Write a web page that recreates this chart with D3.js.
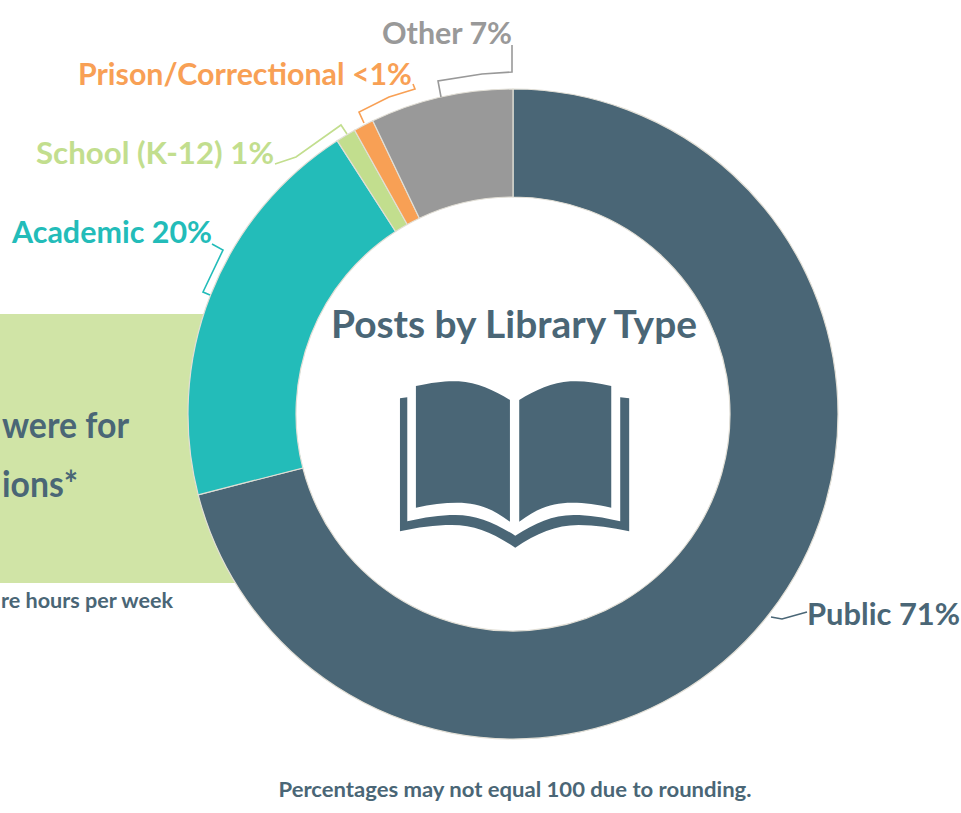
<!DOCTYPE html>
<html><head><meta charset="utf-8">
<script src="https://cdn.jsdelivr.net/npm/d3@7/dist/d3.min.js"></script>
<style>html,body{margin:0;background:#fff}svg{display:block}text{font-family:Lato,"Noto Sans",sans-serif;font-weight:700}</style>
</head><body><svg id="c" width="961" height="813"></svg>
<script>
const categories=["Public","Academic","School (K-12)","Prison/Correctional","Other"];
const shares=[71,19.9,1,1,7.1];
const labels=["Public 71%","Academic 20%","School (K-12) 1%","Prison/Correctional <1%","Other 7%"];
const colors=["#4a6676","#23bcb9","#c2de8e","#f8a055","#999999"];
const labelLayout=[
 {x:807,y:625,a:"start",s:30,w:153,lead:[[771,617],[782,619],[807,612]]},
 {x:212,y:243,a:"end",s:30,w:200,lead:[[212,244],[223,250],[203,292],[210,295]]},
 {x:274,y:164,a:"end",s:30,w:238,lead:[[347,134],[341,125],[296,157],[275,164]]},
 {x:412,y:85,a:"end",s:30,w:334,lead:[[364,123],[359,112],[389,97],[415,89],[413,84]]},
 {x:512,y:44,a:"end",s:30,w:130,lead:[[441,97],[438,81],[482,74],[512,72],[512,45]]}
];
const svg=d3.select("#c");
const cx=513,cy=414,R=325,r=217;
const ink="#4a6676";
svg.append("rect").attr("x",0).attr("y",314).attr("width",240).attr("height",269).attr("fill","#d0e4a6");
const fit=(t,w)=>t.attr("textLength",w).attr("lengthAdjust","spacingAndGlyphs");
fit(svg.append("text").attr("x",129).attr("y",438).attr("text-anchor","end").attr("font-size",36).attr("fill",ink).text("were for"),127);
fit(svg.append("text").attr("x",78).attr("y",497).attr("text-anchor","end").attr("font-size",36).attr("fill",ink).text("ions*"),76);
fit(svg.append("text").attr("x",173).attr("y",608).attr("text-anchor","end").attr("font-size",21).attr("fill",ink).text("re hours per week"),172);
const pie=d3.pie().sort(null).value(d=>d);
const arc=d3.arc().innerRadius(r).outerRadius(R);
const g=svg.append("g").attr("transform",`translate(${cx},${cy})`);
g.selectAll("path").data(pie(shares)).join("path").attr("d",arc).attr("fill",(d,i)=>colors[i]).attr("stroke","#e2dfd6").attr("stroke-width",1.2);
const line=d3.line();
labelLayout.forEach((l,i)=>{
 svg.append("path").attr("d",line(l.lead)).attr("fill","none").attr("stroke",colors[i]).attr("stroke-width",1.6);
 fit(svg.append("text").attr("x",l.x).attr("y",l.y).attr("text-anchor",l.a).attr("font-size",l.s).attr("fill",colors[i]).text(labels[i]),l.w);
});
fit(svg.append("text").attr("x",514).attr("y",338).attr("text-anchor","middle").attr("font-size",38).attr("fill",ink).text("Posts by Library Type"),366);
fit(svg.append("text").attr("x",515).attr("y",797).attr("text-anchor","middle").attr("font-size",21).attr("fill",ink).text("Percentages may not equal 100 due to rounding."),473);
const book=svg.append("g").attr("transform","translate(380.7,360) scale(0.3322,0.3333)").attr("fill",ink);
book.append("path").attr("d","M106,78C160,66 200,62 235,64C290,68 340,90 389,120L389,485C335,445 290,428 230,428C190,428 150,433 106,443Z");
book.append("path").attr("d","M417,120C466,90 516,68 571,64C606,62 646,66 694,78L694,443C650,433 616,428 576,428C516,428 471,445 417,485Z");
book.append("path").attr("d","M58,115L80,112L80,484C130,472 180,465 225,465C290,465 345,490 405,527C465,490 516,465 581,465C626,465 671,472 721,484L721,112L748,115L748,514C696,502 646,495 596,495C526,495 470,520 405,563C340,520 284,495 214,495C164,495 110,502 58,514Z");
</script></body></html>
